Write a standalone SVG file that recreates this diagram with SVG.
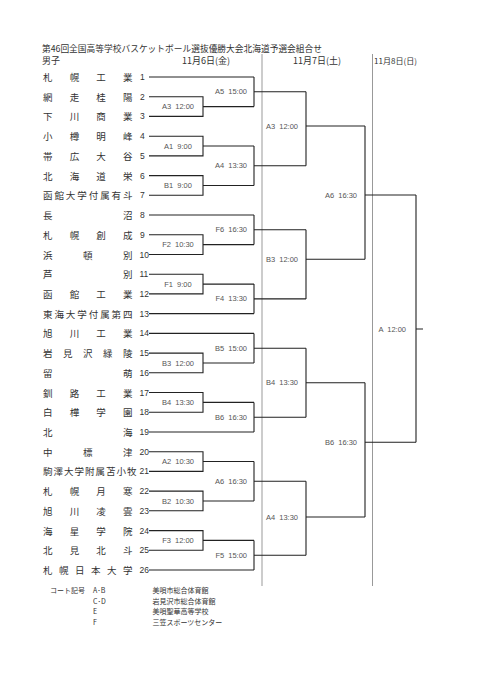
<svg xmlns="http://www.w3.org/2000/svg" width="481" height="680" viewBox="0 0 481 680">
<style>
.jp{font-family:"Noto Sans CJK JP","Noto Sans CJK SC",sans-serif;fill:#333;dominant-baseline:central}
.tn{font-size:9.5px}
.num{font-family:"Liberation Sans",Arial,sans-serif;font-size:8.5px;fill:#333;dominant-baseline:central}
.lb{font-family:"Liberation Sans",Arial,sans-serif;font-size:7.5px;fill:#555;dominant-baseline:central;word-spacing:2px}
.c{text-anchor:middle}
.e{text-anchor:end}
.br{fill:none;stroke:#222;stroke-width:1.1}
.sep{fill:none;stroke:#999;stroke-width:1}
.lg{font-size:7px}
</style>
<rect width="481" height="680" fill="#fff"/>
<g id="header">
<text class="jp" x="42" y="48" font-size="9" textLength="280" lengthAdjust="spacingAndGlyphs">第46回全国高等学校バスケットボール選抜優勝大会北海道予選会組合せ</text>
<text class="jp" x="42" y="60" font-size="9">男子</text>
<text class="jp" x="182" y="60" font-size="9" textLength="48" lengthAdjust="spacingAndGlyphs">11月6日(金)</text>
<text class="jp" x="293" y="60" font-size="9" textLength="48" lengthAdjust="spacingAndGlyphs">11月7日(土)</text>
<text class="jp" x="374" y="60" font-size="8" textLength="43" lengthAdjust="spacingAndGlyphs">11月8日(日)</text>
</g>
<g id="separators">
<path class="sep" d="M262 54V586M372.5 54V586"/>
</g>
<g id="teams">
<g id="t1"><text class="jp tn" x="43 69.67 96.33 123" y="77">札幌工業</text><text class="num" x="140" y="77">1</text></g>
<g id="t2"><text class="jp tn" x="43 69.67 96.33 123" y="96.7">網走桂陽</text><text class="num" x="140" y="96.7">2</text></g>
<g id="t3"><text class="jp tn" x="43 69.67 96.33 123" y="116.4">下川商業</text><text class="num" x="140" y="116.4">3</text></g>
<g id="t4"><text class="jp tn" x="43 69.67 96.33 123" y="136.2">小樽明峰</text><text class="num" x="140" y="136.2">4</text></g>
<g id="t5"><text class="jp tn" x="43 69.67 96.33 123" y="155.9">帯広大谷</text><text class="num" x="140" y="155.9">5</text></g>
<g id="t6"><text class="jp tn" x="43 69.67 96.33 123" y="175.6">北海道栄</text><text class="num" x="140" y="175.6">6</text></g>
<g id="t7"><text class="jp tn" x="43 54.43 65.86 77.29 88.71 100.14 111.57 123" y="195.3">函館大学付属有斗</text><text class="num" x="140" y="195.3">7</text></g>
<g id="t8"><text class="jp tn" x="43 123" y="215">長沼</text><text class="num" x="140" y="215">8</text></g>
<g id="t9"><text class="jp tn" x="43 69.67 96.33 123" y="234.8">札幌創成</text><text class="num" x="140" y="234.8">9</text></g>
<g id="t10"><text class="jp tn" x="43 83 123" y="254.5">浜頓別</text><text class="num" x="139.5" y="254.5">10</text></g>
<g id="t11"><text class="jp tn" x="43 123" y="274.2">芦別</text><text class="num" x="139.5" y="274.2">11</text></g>
<g id="t12"><text class="jp tn" x="43 69.67 96.33 123" y="293.9">函館工業</text><text class="num" x="139.5" y="293.9">12</text></g>
<g id="t13"><text class="jp tn" x="43 54.43 65.86 77.29 88.71 100.14 111.57 123" y="313.6">東海大学付属第四</text><text class="num" x="139.5" y="313.6">13</text></g>
<g id="t14"><text class="jp tn" x="43 69.67 96.33 123" y="333.4">旭川工業</text><text class="num" x="139.5" y="333.4">14</text></g>
<g id="t15"><text class="jp tn" x="43 63 83 103 123" y="353.1">岩見沢緑陵</text><text class="num" x="139.5" y="353.1">15</text></g>
<g id="t16"><text class="jp tn" x="43 123" y="372.8">留萌</text><text class="num" x="139.5" y="372.8">16</text></g>
<g id="t17"><text class="jp tn" x="43 69.67 96.33 123" y="392.5">釧路工業</text><text class="num" x="139.5" y="392.5">17</text></g>
<g id="t18"><text class="jp tn" x="43 69.67 96.33 123" y="412.2">白樺学園</text><text class="num" x="139.5" y="412.2">18</text></g>
<g id="t19"><text class="jp tn" x="43 123" y="432">北海</text><text class="num" x="139.5" y="432">19</text></g>
<g id="t20"><text class="jp tn" x="43 83 123" y="451.7">中標津</text><text class="num" x="139.5" y="451.7">20</text></g>
<g id="t21"><text class="jp tn" x="43 53.5 64 74.5 85 95.5 106 116.5 127" y="471.4">駒澤大学附属苫小牧</text><text class="num" x="139.5" y="471.4">21</text></g>
<g id="t22"><text class="jp tn" x="43 69.67 96.33 123" y="491.1">札幌月寒</text><text class="num" x="139.5" y="491.1">22</text></g>
<g id="t23"><text class="jp tn" x="43 69.67 96.33 123" y="510.8">旭川凌雲</text><text class="num" x="139.5" y="510.8">23</text></g>
<g id="t24"><text class="jp tn" x="43 69.67 96.33 123" y="530.6">海星学院</text><text class="num" x="139.5" y="530.6">24</text></g>
<g id="t25"><text class="jp tn" x="43 69.67 96.33 123" y="550.3">北見北斗</text><text class="num" x="139.5" y="550.3">25</text></g>
<g id="t26"><text class="jp tn" x="43 59 75 91 107 123" y="570">札幌日本大学</text><text class="num" x="139.5" y="570">26</text></g>
</g>
<g id="connectors">
<path class="br" d="M149 77H254M149 215H254M149 313.6H254M149 333.4H254M149 432H254M149 570H254"/>
<path class="br" d="M149 96.7H203V116.4H149M203 106.6H254
M149 136.2H203V155.9H149M203 146H254
M149 175.6H203V195.3H149M203 185.5H254
M149 234.8H203V254.5H149M203 244.6H254
M149 274.2H203V293.9H149M203 284.1H254
M149 353.1H203V372.8H149M203 363H254
M149 392.5H203V412.2H149M203 402.4H254
M149 451.7H203V471.4H149M203 461.5H254
M149 491.1H203V510.8H149M203 501H254
M149 530.6H203V550.3H149M203 540.4H254"/>
<path class="br" d="M254 77V106.6M254 91.8H306
M254 146V185.5M254 165.7H306
M254 215V244.6M254 229.8H306
M254 284.1V313.6M254 298.9H306
M254 333.4V363M254 348.2H306
M254 402.4V432M254 417.2H306
M254 461.5V501M254 481.2H306
M254 540.4V570M254 555.2H306"/>
<path class="br" d="M306 91.8V165.7M306 126H365
M306 229.8V298.9M306 259.3H365
M306 348.2V417.2M306 382.7H365
M306 481.2V555.2M306 517H365"/>
<path class="br" d="M365 126V259.3M365 195H416M365 382.7V517M365 442.3H416"/>
<path class="br" d="M416 195V442.3M416 329H423"/>
</g>
<g id="matches">
<g id="m-A3r1"><text class="lb c" x="178" y="106.6">A3 12:00</text></g>
<g id="m-A1"><text class="lb c" x="178" y="146">A1 9:00</text></g>
<g id="m-B1"><text class="lb c" x="178" y="185.5">B1 9:00</text></g>
<g id="m-F2"><text class="lb c" x="178" y="244.6">F2 10:30</text></g>
<g id="m-F1"><text class="lb c" x="178" y="284.1">F1 9:00</text></g>
<g id="m-B3r1"><text class="lb c" x="178" y="363">B3 12:00</text></g>
<g id="m-B4r1"><text class="lb c" x="178" y="402.4">B4 13:30</text></g>
<g id="m-A2"><text class="lb c" x="178" y="461.5">A2 10:30</text></g>
<g id="m-B2"><text class="lb c" x="178" y="501">B2 10:30</text></g>
<g id="m-F3"><text class="lb c" x="178" y="540.4">F3 12:00</text></g>
<g id="m-A5"><text class="lb e" x="247" y="91.8">A5 15:00</text></g>
<g id="m-A4r2"><text class="lb e" x="247" y="165.7">A4 13:30</text></g>
<g id="m-F6"><text class="lb e" x="247" y="229.8">F6 16:30</text></g>
<g id="m-F4"><text class="lb e" x="247" y="298.9">F4 13:30</text></g>
<g id="m-B5"><text class="lb e" x="247" y="348.2">B5 15:00</text></g>
<g id="m-B6r2"><text class="lb e" x="247" y="417.2">B6 16:30</text></g>
<g id="m-A6r2"><text class="lb e" x="247" y="481.2">A6 16:30</text></g>
<g id="m-F5"><text class="lb e" x="247" y="555.2">F5 15:00</text></g>
<g id="m-A3r3"><text class="lb e" x="298" y="126">A3 12:00</text></g>
<g id="m-B3r3"><text class="lb e" x="298" y="259.3">B3 12:00</text></g>
<g id="m-B4r3"><text class="lb e" x="298" y="382.7">B4 13:30</text></g>
<g id="m-A4r3"><text class="lb e" x="298" y="517">A4 13:30</text></g>
<g id="m-A6r4"><text class="lb e" x="357" y="195">A6 16:30</text></g>
<g id="m-B6r4"><text class="lb e" x="357" y="442.3">B6 16:30</text></g>
<g id="m-final"><text class="lb e" x="406" y="329">A 12:00</text></g>
</g>
<g id="legend">
<text class="jp lg" x="50" y="590">コート記号</text>
<text class="jp lg" x="93" y="590">A･B</text>
<text class="jp lg" x="93" y="600.5">C･D</text>
<text class="jp lg" x="93" y="611">E</text>
<text class="jp lg" x="93" y="621.5">F</text>
<text class="jp lg" x="152.5" y="590">美唄市総合体育館</text>
<text class="jp lg" x="152.5" y="600.5">岩見沢市総合体育館</text>
<text class="jp lg" x="152.5" y="611">美唄聖華高等学校</text>
<text class="jp lg" x="152.5" y="621.5">三笠スポーツセンター</text>
</g>
</svg>
